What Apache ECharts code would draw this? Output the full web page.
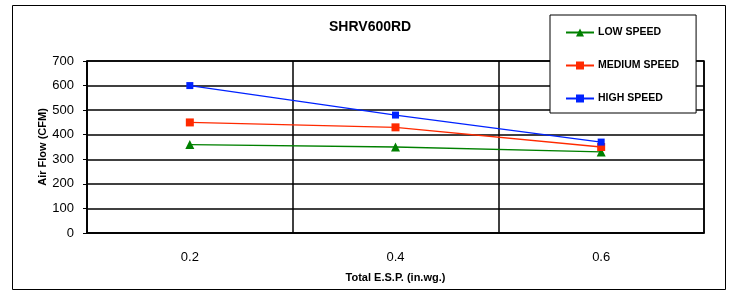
<!DOCTYPE html>
<html><head><meta charset="utf-8">
<script src="https://cdn.jsdelivr.net/npm/echarts@6/dist/echarts.min.js"></script>
<style>html,body{margin:0;padding:0;background:#fff}#c{width:729px;height:293px}</style>
</head><body><div id="c"></div>
<script>
const categories = ['0.2', '0.4', '0.6'];
const lowSpeed = [360, 350, 330];
const mediumSpeed = [450, 430, 350];
const highSpeed = [600, 480, 370];
const yTicks = [0, 100, 200, 300, 400, 500, 600, 700];

const chart = echarts.init(document.getElementById('c'));
const F = '"Liberation Sans", Arial, sans-serif';
chart.setOption({
  animation: false,
  graphic: [{type: 'rect', shape: {x: 12.5, y: 5.5, width: 713, height: 284}, style: {fill: 'none', stroke: '#000', lineWidth: 1}, z: -1}],
  title: {text: 'SHRV600RD', left: 329, top: 20, padding: 0, textStyle: {fontFamily: F, fontSize: 14, fontWeight: 'bold', color: '#000'}},
  grid: {left: 87, top: 61, right: 25, bottom: 60, show: true, borderColor: '#000', borderWidth: 1.5, backgroundColor: 'transparent'},
  legend: {
    orient: 'vertical', left: 550, top: 15,
    backgroundColor: '#fff', borderColor: '#000', borderWidth: 1,
    padding: [12, 17, 9, 15], itemGap: 22, itemWidth: 28, itemHeight: 10,
    textStyle: {fontFamily: F, fontSize: 10.5, fontWeight: 'bold', color: '#000', padding: [0, 0, 0, -1]},
    data: ['LOW SPEED', 'MEDIUM SPEED', 'HIGH SPEED'], z: 10
  },
  xAxis: {
    type: 'category', data: categories, boundaryGap: true,
    name: 'Total E.S.P. (in.wg.)', nameLocation: 'middle', nameGap: 39,
    nameTextStyle: {fontFamily: F, fontSize: 11, fontWeight: 'bold', color: '#000'},
    axisLine: {lineStyle: {color: '#000', width: 1.5}},
    axisTick: {show: false},
    axisLabel: {fontFamily: F, fontSize: 13, color: '#000', margin: 18},
    splitLine: {show: true, lineStyle: {color: '#000', width: 1.5}}
  },
  yAxis: {
    type: 'value', min: 0, max: 700, interval: 100,
    name: 'Air Flow (CFM)', nameLocation: 'middle', nameGap: 39, nameRotate: 90, nameMoveOverlap: false,
    nameTextStyle: {fontFamily: F, fontSize: 11, fontWeight: 'bold', color: '#000'},
    axisLine: {show: true, lineStyle: {color: '#000', width: 1.5}},
    axisTick: {show: true, length: 4, lineStyle: {color: '#000'}},
    axisLabel: {fontFamily: F, fontSize: 13, color: '#000', margin: 13, formatter: v => yTicks.includes(v) ? String(v) : ''},
    splitLine: {show: true, lineStyle: {color: '#000', width: 1.5}}
  },
  series: [
    {name: 'LOW SPEED', type: 'line', data: lowSpeed, symbol: 'triangle', symbolSize: 9, color: '#008000', lineStyle: {width: 1.3}},
    {name: 'MEDIUM SPEED', type: 'line', data: mediumSpeed, symbol: 'rect', symbolSize: 8, color: '#ff2a00', lineStyle: {width: 1.3}},
    {name: 'HIGH SPEED', type: 'line', data: highSpeed, symbol: 'rect', symbolSize: 7, color: '#0022ff', lineStyle: {width: 1.3}}
  ]
});
</script></body></html>
